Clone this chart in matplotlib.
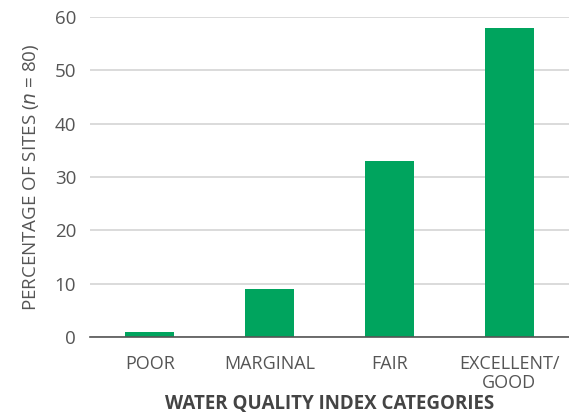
import matplotlib.pyplot as plt

categories = ["POOR", "MARGINAL", "FAIR", "EXCELLENT/\nGOOD"]
percent_sites = [1, 9, 33, 58]
y_ticks = [0, 10, 20, 30, 40, 50, 60]

text_grey = "#555555"
bar_green = "#00A45E"

plt.rcParams["font.family"] = ["Open Sans", "DejaVu Sans"]

fig = plt.figure(figsize=(5.69, 4.13), dpi=100)
ax = fig.add_axes([90 / 569, 1 - 337 / 413, 479 / 569, 320 / 413])

x = range(len(categories))
ax.bar(x, percent_sites, width=0.41, color=bar_green, zorder=3)

ax.set_xlim(-0.5, 3.5)
ax.set_ylim(0, 60)
ax.set_yticks(y_ticks)
ax.set_xticks(list(x))
ax.set_xticklabels(categories, fontsize=13, color=text_grey, linespacing=1.1)
ax.tick_params(axis="y", labelsize=13.5, colors=text_grey, length=0, pad=10)
ax.tick_params(axis="x", length=0, pad=13)

# light horizontal grid, darker baseline
ax.yaxis.grid(True, color="#d4d4d4", linewidth=1.2, zorder=0)
for s in ["top", "right", "left"]:
    ax.spines[s].set_visible(False)
ax.spines["bottom"].set_color("#555555")
ax.spines["bottom"].set_linewidth(1.2)
ax.spines["bottom"].set_zorder(4)

ax.set_ylabel("PERCENTAGE OF SITES ($\\it{n}$ = 80)", fontsize=13.5,
              color=text_grey, labelpad=10)
ax.set_xlabel("WATER QUALITY INDEX CATEGORIES", fontsize=13.5,
              color="#444444", fontweight="bold", labelpad=1)

fig.savefig("out.png", dpi=100)
